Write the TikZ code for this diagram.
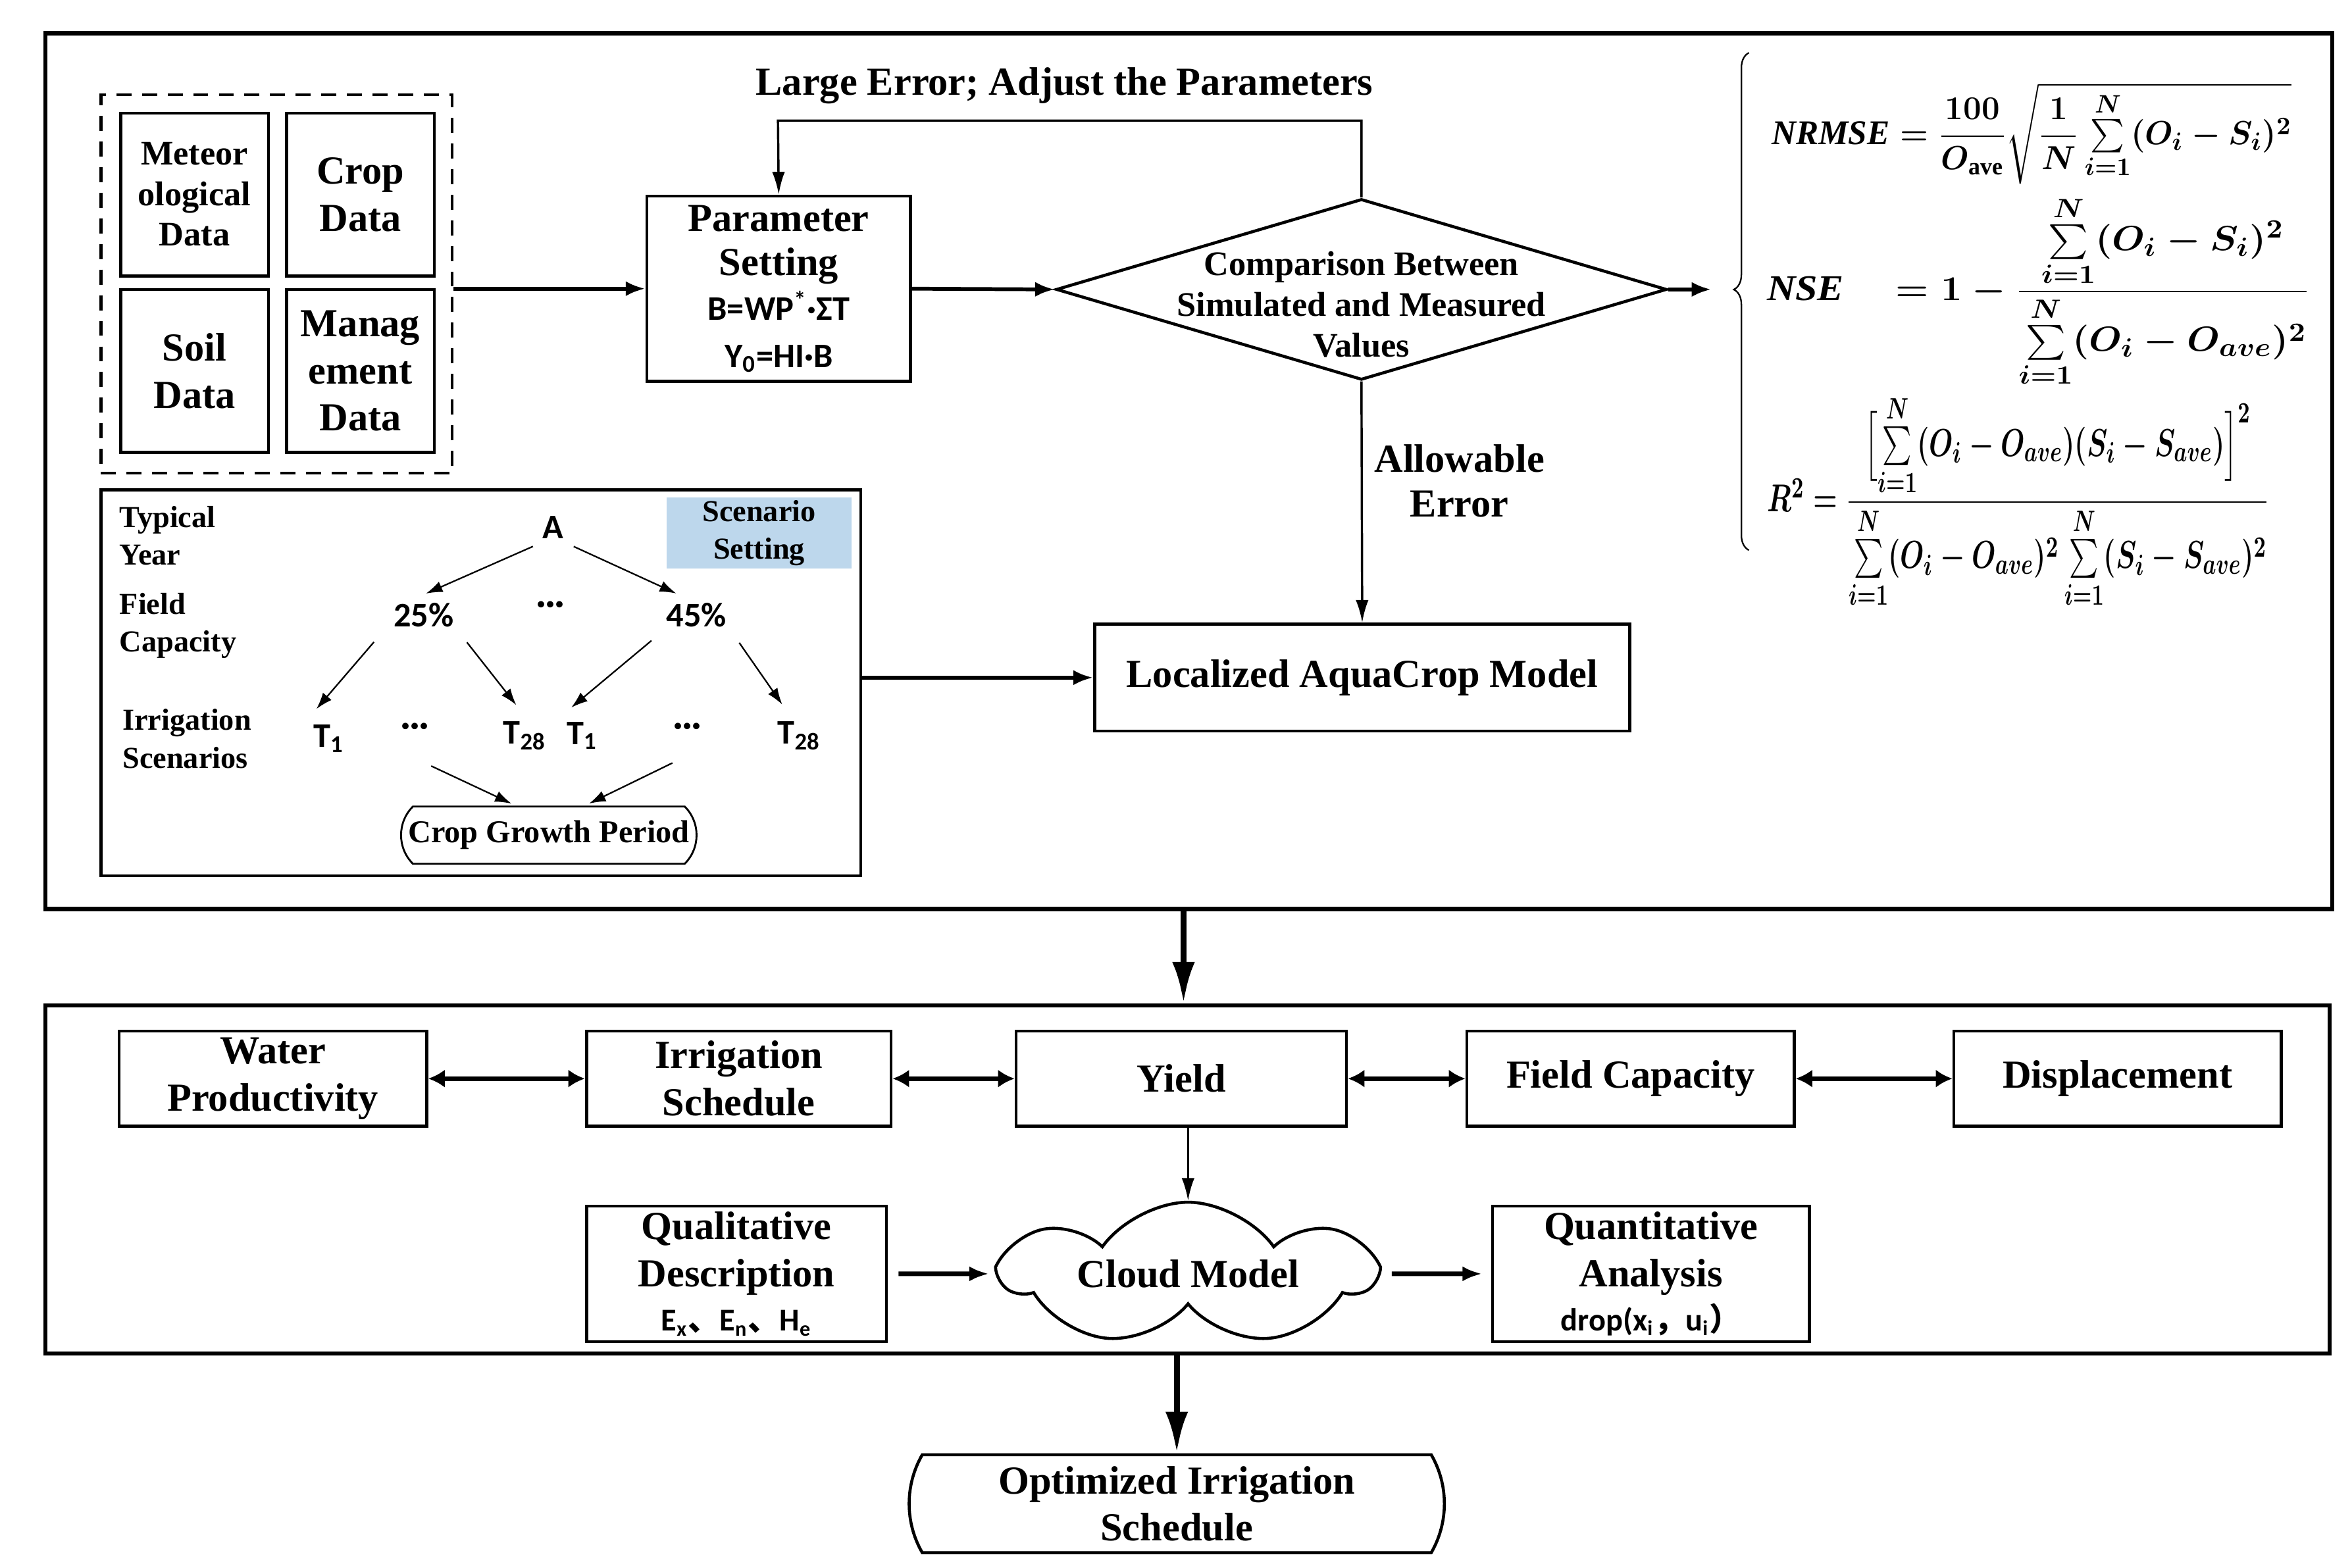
\documentclass[tikz,border=0pt]{standalone}
\usepackage{amsmath}
\usepackage{graphicx}
\usepackage{fontspec}
\setmainfont{Liberation Serif}
\newfontfamily\calib{Carlito}
\newfontfamily\cjk{Noto Sans CJK SC}
\usetikzlibrary{arrows.meta,shapes.geometric,shapes.misc,shapes.symbols,decorations.pathreplacing,calc}
\newcommand\pxu{0.02cm}
\definecolor{scenblue}{RGB}{189,215,236}
\begin{document}
\begin{tikzpicture}[x=0.02cm,y=-0.02cm,
  big/.style={font=\fontsize{15}{17.8}\selectfont\bfseries},
  mid/.style={font=\fontsize{13}{15.3}\selectfont\bfseries},
  sm/.style={font=\fontsize{11.5}{14.2}\selectfont\bfseries},
  box/.style={draw,line width=0.04cm,inner sep=0pt,align=center,big},
  outer/.style={draw,line width=0.055cm,inner sep=0pt},
  lbl/.style={inner sep=0pt,align=center},
  cal/.style={font=\fontsize{13}{15}\selectfont\calib\bfseries},
  arrmed/.style={line width=0.05cm,-{Latex[length=0.26cm,width=0.2cm]}},
  arrthin/.style={line width=0.03cm,-{Latex[length=0.3cm,width=0.17cm]}},
  arrtree/.style={line width=0.02cm,-{Latex[length=0.22cm,width=0.15cm]}},
  arrdbl/.style={line width=0.06cm,{Latex[length=0.22cm,width=0.24cm]}-{Latex[length=0.22cm,width=0.24cm]}},
  arrbig/.style={line width=0.08cm,-{Latex[length=0.55cm,width=0.3cm]}},
  formula/.style={inner sep=0pt,font=\fontsize{15}{18}\selectfont\boldmath}
]
\path[fill=white] (0,0) rectangle (1560,1040);
\useasboundingbox (0,0) rectangle (1560,1040);

% ---- outer boxes
\node[outer,minimum width=1517*\pxu,minimum height=581*\pxu] (topbox) at (788.5,312.5) {};
\node[outer,minimum width=1515*\pxu,minimum height=231*\pxu] (botbox) at (787.5,782.5) {};

% ---- data boxes
\node[draw,dashed,line width=0.035cm,dash pattern=on 0.2cm off 0.14cm,minimum width=233*\pxu,minimum height=251*\pxu,inner sep=0] (data) at (183.5,188.5) {};
\node[box,mid,minimum width=98*\pxu,minimum height=108*\pxu] (meteo) at (129,129) {Meteor\\ological\\Data};
\node[box,minimum width=98*\pxu,minimum height=108*\pxu] (crop) at (239,129) {Crop\\Data};
\node[box,minimum width=98*\pxu,minimum height=108*\pxu] (soil) at (129,246) {Soil\\Data};
\node[box,minimum width=98*\pxu,minimum height=108*\pxu] (manag) at (239,246) {Manag\\ement\\Data};

% ---- parameter setting
\node[box,minimum width=175*\pxu,minimum height=123*\pxu] (ps) at (516.5,191.5)
  {Parameter\\[-1pt]Setting\\[-1pt]{\calib\fontsize{13}{17}\selectfont\bfseries B=WP\textsuperscript{*}·ΣT}\\{\calib\fontsize{13}{17}\selectfont\bfseries Y\textsubscript{0}=HI·B}};

% ---- diamond
\node[diamond,draw,line width=0.04cm,inner sep=0pt,minimum width=405*\pxu,minimum height=120*\pxu] (dia) at (903,192) {};
\node[lbl,font=\fontsize{13}{15.5}\selectfont\bfseries] (diatext) at ([yshift=-10*\pxu]dia.center) {Comparison Between\\Simulated and Measured\\Values};

% ---- feedback
\coordinate (fbr) at (903,80);
\coordinate (fbl) at (516,80);
\draw[arrthin] (dia.north) -- (fbr) -- (fbl) -- (ps.north);
\node[lbl,big] (largeerr) at (706,57) {Large Error; Adjust the Parameters};

\draw[arrmed] (data.east |- ps.west) -- (ps.west);
\draw[arrmed] (ps.east) -- (dia.west);

% ---- localized model
\node[box,minimum width=355*\pxu,minimum height=71*\pxu] (loc) at (903.5,449.5) {Localized AquaCrop Model};
\draw[arrthin] (dia.south) -- (loc.north);
\node[lbl,big] (allow) at (968,319) {Allowable\\[-1pt]Error};

% ---- brace and formulas
\coordinate (bracetip) at (1135,192);
\draw[arrmed] (dia.east) -- (bracetip);
\coordinate (bb) at (1160,365);
\coordinate (bt) at (1160,35);
\draw[line width=0.02cm,decorate,decoration={brace,amplitude=0.2cm,aspect=0.524}] (bb) -- (bt);

\node[formula] (nrmse) at (1347.5,88.5) {\resizebox*{6.9cm}{1.34cm}{$\mathit{NRMSE}=\dfrac{100}{O_{\mathrm{ave}}}\sqrt{\dfrac{1}{N}\sum\limits_{i=1}^{N}(O_i-S_i)^2}$}};
\node[formula] (nse) at (1352,193.5) {\resizebox*{7.2cm}{2.54cm}{$\mathit{NSE}\quad=1-\dfrac{\sum\limits_{i=1}^{N}(O_i-S_i)^2}{\sum\limits_{i=1}^{N}(O_i-O_{ave})^2}$}};
\node[formula] (rsq) at (1338.5,333) {\resizebox*{6.66cm}{2.84cm}{$R^2=\dfrac{\Bigl[\sum\limits_{i=1}^{N}(O_i-O_{ave})(S_i-S_{ave})\Bigr]^2}{\sum\limits_{i=1}^{N}(O_i-O_{ave})^2\sum\limits_{i=1}^{N}(S_i-S_{ave})^2}$}};

% ---- scenario box
\node[outer,line width=0.04cm,minimum width=504*\pxu,minimum height=256*\pxu] (scen) at (319,453) {};
\node[fill=scenblue,minimum width=123*\pxu,minimum height=47*\pxu,inner sep=0,align=center,sm] (scenset) at (503.5,353.5) {Scenario\\Setting};
\node[lbl,sm,align=left,anchor=west] (typ) at (79,355.5) {Typical\\Year};
\node[lbl,sm,align=left,anchor=west] (fcap) at (79,415) {Field\\Capacity};
\node[lbl,sm,align=left,anchor=west] (irrs) at (81,490) {Irrigation\\Scenarios};

\node[cal,inner sep=2pt] (A) at (367,350) {A};
\node[cal,inner sep=2pt] (p25) at (281,408) {25\%};
\node[cal,inner sep=2pt] (pdots) at (365,403) {···};
\node[cal,inner sep=2pt] (p45) at (462,408) {45\%};
\node[cal,inner sep=2pt] (t1a) at (218,490) {T\textsubscript{1}};
\node[cal,inner sep=2pt] (da) at (275,484) {···};
\node[cal,inner sep=2pt] (t28a) at (348,488) {T\textsubscript{28}};
\node[cal,inner sep=2pt] (t1b) at (386,488) {T\textsubscript{1}};
\node[cal,inner sep=2pt] (db) at (456,484) {···};
\node[cal,inner sep=2pt] (t28b) at (530,488) {T\textsubscript{28}};
\node[rounded rectangle,rounded rectangle arc length=90,draw,line width=0.025cm,inner sep=0pt,minimum width=196*\pxu,minimum height=38*\pxu,font=\fontsize{12}{14}\selectfont\bfseries] (cgp) at (364,554) {Crop Growth Period};

\draw[arrtree,shorten <=0.06cm,shorten >=0.12cm] (A.south west) -- ([xshift=-4*\pxu]p25.north);
\draw[arrtree,shorten <=0.06cm,shorten >=0.12cm] (A.south east) -- ([xshift=-8*\pxu]p45.north);
\draw[arrtree,shorten <=0.16cm,shorten >=0.18cm] ([xshift=-4*\pxu]p25.south west) -- (t1a.north west);
\draw[arrtree,shorten <=0.16cm,shorten >=0.18cm] (p25.south east) -- (t28a.north);
\draw[arrtree,shorten <=0.16cm,shorten >=0.18cm] (p45.south west) -- (t1b.north west);
\draw[arrtree,shorten <=0.16cm,shorten >=0.18cm] (p45.south east) -- ([xshift=-6*\pxu]t28b.north);
\draw[arrtree,shorten >=0.06cm] ([shift={(11*\pxu,-16*\pxu)}]da.south) -- ([xshift=-22*\pxu]cgp.north);
\draw[arrtree,shorten >=0.06cm] ([shift={(-10*\pxu,-14*\pxu)}]db.south) -- ([xshift=24*\pxu]cgp.north);

\draw[arrmed] (scen.east |- loc.west) -- (loc.west);

% ---- top to bottom
\draw[arrbig] (topbox.south -| 785,0) -- (botbox.north -| 785,0);

% ---- bottom row
\node[box,minimum width=204*\pxu,minimum height=63*\pxu] (wp) at (181,715.5) {Water\\Productivity};
\node[box,minimum width=202*\pxu,minimum height=63*\pxu] (is) at (490,715.5) {Irrigation\\Schedule};
\node[box,minimum width=219*\pxu,minimum height=63*\pxu] (yield) at (783.5,715.5) {Yield};
\node[box,minimum width=217*\pxu,minimum height=63*\pxu] (fc) at (1081.5,715.5) {Field Capacity};
\node[box,minimum width=217*\pxu,minimum height=63*\pxu] (disp) at (1404.5,715.5) {Displacement};
\draw[arrdbl] (wp.east) -- (is.west);
\draw[arrdbl] (is.east) -- (yield.west);
\draw[arrdbl] (yield.east) -- (fc.west);
\draw[arrdbl] (fc.east) -- (disp.west);

\node[cloud,draw,line width=0.04cm,cloud puffs=7,cloud puff arc=110,aspect=2.6,inner sep=0pt,minimum width=245*\pxu,minimum height=95*\pxu] (cloud) at (788,845) {};
\node[lbl,big] (cloudtext) at (cloud.center) {Cloud Model};
\draw[arrthin] (yield.south -| cloud.north) -- (cloud.north);

\node[box,minimum width=199*\pxu,minimum height=90*\pxu] (qual) at (488.5,845) {Qualitative\\Description\\[-1pt]{\calib\fontsize{12}{14}\selectfont\bfseries E\textsubscript{x}{\cjk 、}E\textsubscript{n}{\cjk 、}H\textsubscript{e}}};
\node[box,minimum width=210*\pxu,minimum height=90*\pxu] (quant) at (1095,845) {Quantitative\\Analysis\\[-1pt]{\calib\fontsize{12}{14}\selectfont\bfseries drop(x\textsubscript{i}{\cjk ，}u\textsubscript{i}{\cjk ）}}};
\draw[arrmed,line width=0.06cm,shorten <=0.14cm,shorten >=0.08cm] (qual.east) -- (cloud.west);
\draw[arrmed,line width=0.06cm,shorten <=0.14cm,shorten >=0.12cm] (cloud.east) -- (quant.west);

% ---- final
\node[rounded rectangle,rounded rectangle arc length=60,draw,line width=0.04cm,inner sep=0pt,minimum width=355*\pxu,minimum height=65*\pxu,align=center,big] (opt) at (780.5,997.5) {Optimized Irrigation\\Schedule};
\draw[arrbig] (botbox.south -| opt.north) -- (opt.north);
\end{tikzpicture}
\end{document}
